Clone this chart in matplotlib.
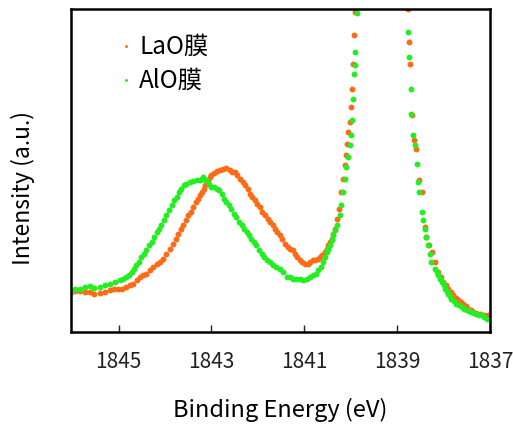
import matplotlib
matplotlib.use("Agg")
import matplotlib.pyplot as plt

plt.rcParams['font.family'] = ['Noto Sans CJK JP', 'DejaVu Sans']

# binding energy (eV) and intensity (a.u.)
lao_x = [1846.02, 1845.84, 1845.62, 1845.41, 1845.19, 1845.01, 1844.83, 1844.69, 1844.54, 1844.40,
         1844.26, 1844.11, 1843.97, 1843.82, 1843.72, 1843.61, 1843.50, 1843.39, 1843.29, 1843.21,
         1843.14, 1843.07, 1843.00, 1842.89, 1842.75, 1842.60, 1842.50, 1842.39, 1842.28, 1842.17,
         1842.07, 1841.96, 1841.85, 1841.74, 1841.63, 1841.53, 1841.42, 1841.31, 1841.20, 1841.10,
         1840.99, 1840.88, 1840.77, 1840.66, 1840.56, 1840.48, 1840.41, 1840.34, 1840.29, 1840.25,
         1840.20, 1840.16, 1840.13, 1840.09, 1840.07, 1840.05, 1840.02, 1840.00, 1839.97, 1839.95,
         1839.93, 1839.91,
         1838.77, 1838.75, 1838.72, 1838.67, 1838.64, 1838.60, 1838.52, 1838.47, 1838.40, 1838.37,
         1838.31, 1838.24, 1838.19, 1838.11, 1838.01, 1837.90, 1837.79, 1837.68, 1837.57, 1837.47,
         1837.36, 1837.22, 1837.04,
         # second pass of readings between the ones above
         1845.93, 1845.73, 1845.52, 1845.30, 1845.10, 1844.92, 1844.76, 1844.61, 1844.47, 1844.33,
         1844.18, 1844.04, 1843.90, 1843.77, 1843.66, 1843.55, 1843.45, 1843.34, 1843.25, 1843.17,
         1843.10, 1843.03, 1842.94, 1842.82, 1842.68, 1842.55, 1842.44, 1842.33, 1842.22, 1842.12,
         1842.01, 1841.90, 1841.79, 1841.68, 1841.58, 1841.47, 1841.36, 1841.25, 1841.15, 1841.04,
         1840.93, 1840.82, 1840.71, 1840.61, 1840.52, 1840.44, 1840.37,
         1838.06, 1837.95, 1837.84, 1837.73, 1837.62, 1837.52, 1837.41, 1837.29, 1837.13]
lao_y = [12.0, 12.2, 12.0, 11.7, 12.5, 13.0, 13.5, 14.5, 16.5, 17.5,
         19.5, 21.0, 23.5, 26.5, 29.5, 32.0, 35.0, 37.5, 40.0, 42.0,
         44.0, 45.5, 47.0, 48.2, 49.0, 48.5, 48.0, 46.0, 44.0, 41.5,
         39.5, 37.5, 35.0, 33.0, 31.0, 29.0, 26.5, 25.0, 23.5, 21.5,
         20.5, 21.0, 21.5, 22.5, 24.0, 26.0, 28.0, 31.0, 34.0, 37.0,
         42.0, 46.0, 50.0, 53.0, 56.5, 60.0, 63.0, 67.5, 73.0, 80.5,
         89.2, 96.0,
         97.0, 87.0, 80.5, 65.0, 57.5, 55.0, 45.5, 42.0, 31.5, 28.5,
         26.0, 24.0, 21.0, 18.0, 15.0, 13.0, 11.0, 9.5, 8.5, 7.0,
         6.0, 5.5, 5.0,
         12.3, 12.0, 11.5, 12.0, 12.8, 13.0, 14.0, 15.5, 17.0, 18.5,
         20.5, 22.0, 25.0, 28.0, 31.0, 33.5, 36.0, 39.0, 41.0, 43.0,
         44.5, 46.5, 47.8, 48.5, 49.2, 48.0, 47.0, 45.0, 43.0, 40.5,
         38.5, 36.0, 34.0, 32.0, 30.0, 28.0, 25.5, 24.5, 22.5, 21.0,
         20.5, 21.5, 22.0, 23.0, 25.0, 27.0, 29.5,
         16.5, 14.0, 12.0, 10.2, 9.0, 7.8, 6.5, 5.8, 5.2]

alo_x = [1846.02, 1845.84, 1845.62, 1845.41, 1845.19, 1844.97, 1844.83, 1844.72, 1844.62, 1844.51,
         1844.40, 1844.29, 1844.18, 1844.08, 1843.97, 1843.86, 1843.75, 1843.65, 1843.54, 1843.39,
         1843.25, 1843.18, 1843.11, 1843.00, 1842.89, 1842.78, 1842.68, 1842.57, 1842.46, 1842.35,
         1842.24, 1842.14, 1842.03, 1841.92, 1841.81, 1841.67, 1841.53, 1841.38, 1841.24, 1841.10,
         1840.95, 1840.81, 1840.70, 1840.59, 1840.52, 1840.45, 1840.38, 1840.30, 1840.23, 1840.20,
         1840.16, 1840.13, 1840.09, 1840.05, 1840.02, 1840.00, 1839.98, 1839.95, 1839.93, 1839.91,
         1839.90, 1839.86,
         1838.77, 1838.74, 1838.71, 1838.69, 1838.65, 1838.62, 1838.58, 1838.56, 1838.52, 1838.47,
         1838.44, 1838.40, 1838.37, 1838.33, 1838.29, 1838.26, 1838.19, 1838.11, 1838.04, 1837.97,
         1837.90, 1837.83, 1837.72, 1837.61, 1837.50, 1837.40, 1837.29, 1837.18, 1837.07,
         # second pass of readings between the ones above
         1845.93, 1845.73, 1845.52, 1845.30, 1845.08, 1844.90, 1844.77, 1844.67, 1844.56, 1844.45,
         1844.34, 1844.23, 1844.13, 1844.02, 1843.91, 1843.80, 1843.70, 1843.60, 1843.47, 1843.32,
         1843.21, 1843.05, 1842.94, 1842.83, 1842.73, 1842.62, 1842.51, 1842.40, 1842.30, 1842.19,
         1842.08, 1841.97, 1841.87, 1841.74, 1841.60, 1841.45, 1841.31, 1841.17, 1841.03, 1840.88,
         1840.75, 1840.64, 1840.55, 1840.48, 1840.41, 1840.34,
         1838.15, 1838.08, 1838.00, 1837.93, 1837.87, 1837.78, 1837.67, 1837.55, 1837.45, 1837.34,
         1837.23, 1837.12]
alo_y = [12.0, 13.0, 13.8, 13.5, 14.5, 15.5, 16.5, 18.0, 20.0, 22.5,
         24.5, 27.0, 30.0, 32.0, 35.0, 38.0, 40.5, 43.0, 44.5, 45.2,
         45.5, 46.5, 45.5, 43.5, 43.0, 41.5, 39.0, 37.0, 34.5, 32.0,
         30.0, 28.0, 26.0, 23.5, 21.5, 20.0, 19.0, 16.5, 16.0, 16.0,
         16.0, 17.0, 18.5, 21.0, 24.0, 26.0, 29.0, 32.0, 35.0, 38.0,
         42.0, 46.0, 49.5, 52.5, 56.0, 59.0, 63.5, 70.0, 77.5, 80.0,
         84.0, 95.8,
         90.0, 82.5, 73.0, 65.5, 59.0, 56.0, 50.5, 45.0, 42.0, 36.0,
         33.5, 31.0, 28.5, 26.0, 23.5, 21.0, 19.0, 17.0, 15.0, 13.0,
         11.5, 10.0, 8.5, 7.5, 6.5, 6.0, 5.5, 5.0, 4.0,
         12.8, 13.5, 13.2, 14.0, 15.0, 16.0, 17.0, 19.0, 21.0, 23.5,
         26.0, 28.5, 31.0, 33.5, 36.5, 39.5, 42.0, 44.0, 45.0, 45.5,
         46.0, 44.5, 43.5, 42.5, 40.0, 38.0, 35.5, 33.0, 31.0, 29.0,
         27.0, 24.5, 22.5, 21.0, 19.5, 18.0, 16.5, 16.0, 15.5, 16.5,
         17.5, 19.5, 22.5, 25.0, 27.5, 30.5,
         18.0, 16.0, 14.0, 12.2, 10.8, 9.2, 8.0, 7.0, 6.2, 5.8,
         5.2, 4.5]

xticks = [1845, 1843, 1841, 1839, 1837]

fig = plt.figure(figsize=(5.13, 4.27), dpi=100)
ax = fig.add_axes([0.138, 0.220, 0.817, 0.757])

ax.scatter(lao_x, lao_y, s=18, color="#FF6A14", linewidths=0, label="LaO膜")
ax.scatter(alo_x, alo_y, s=18, color="#22EE22", linewidths=0, label="AlO膜")

ax.set_xlim(1846.03, 1837.0)
ax.set_ylim(0, 97)
ax.set_xticks(xticks)
ax.set_xticklabels([str(t) for t in xticks])
ax.set_yticks([])
ax.tick_params(axis="x", direction="in", length=5, width=1, pad=13, labelsize=15, colors="#222222")
for sp in ax.spines.values():
    sp.set_linewidth(1.8)

ax.set_xlabel("Binding Energy (eV)", fontsize=17, labelpad=18)
ax.set_ylabel("Intensity (a.u.)", fontsize=16.5)
ax.yaxis.set_label_coords(-0.085, 0.45)

ax.legend(loc="upper left", bbox_to_anchor=(0.05, 0.995), frameon=False, fontsize=17.5,
          markerscale=0.5, handletextpad=0.05, labelspacing=0.35, handlelength=1.0)

fig.savefig("out.png", dpi=100)
